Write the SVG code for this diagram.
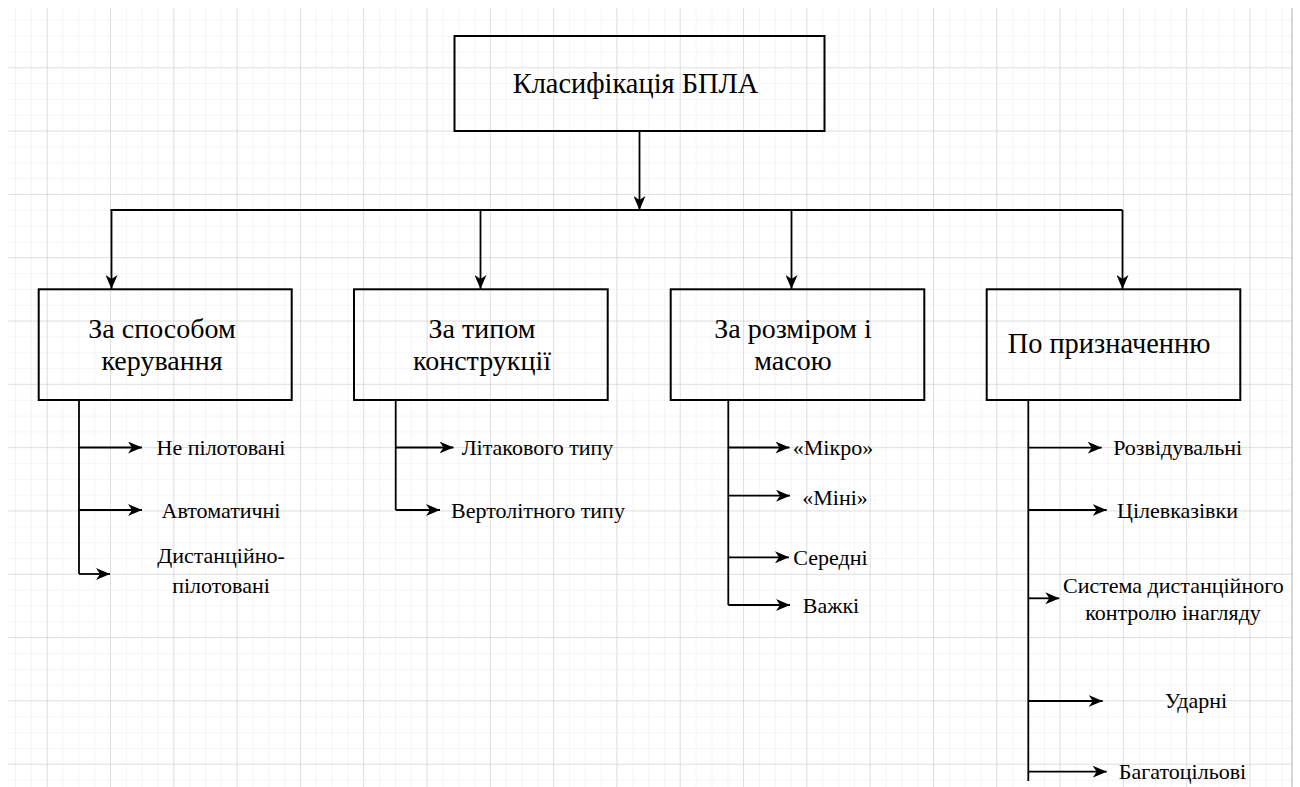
<svg xmlns="http://www.w3.org/2000/svg" width="1300" height="787" viewBox="0 0 1300 787">
<defs>
<pattern id="minor" patternUnits="userSpaceOnUse" x="46.7" y="4" width="15.83" height="15.83">
<path d="M0,0 V15.83 M0,0 H15.83" stroke="#ebebeb" stroke-width="1" fill="none"/>
</pattern>
<pattern id="major" patternUnits="userSpaceOnUse" x="46.7" y="4" width="63.3" height="63.3">
<path d="M0,0 V63.3 M0,0 H63.3" stroke="#c9c9c9" stroke-width="1" fill="none"/>
</pattern>
<marker id="ah" markerUnits="userSpaceOnUse" viewBox="0 0 14 12" refX="14" refY="6" markerWidth="14" markerHeight="12" orient="auto">
<path d="M0,0 L14,6 L0,12 L4,6 Z" fill="#000"/>
</marker>
</defs>
<rect x="0" y="0" width="1300" height="787" fill="#fff"/>
<rect x="8" y="8" width="1284" height="779" fill="url(#minor)"/>
<rect x="8" y="8" width="1284" height="779" fill="url(#major)"/>
<line x1="1292" y1="8" x2="1292" y2="787" stroke="#c9c9c9" stroke-width="1.5"/>

<g id="connectors" fill="none" stroke="#000" stroke-width="1.8">
<path d="M639.5,131 V210" marker-end="url(#ah)"/>
<path d="M110.5,210 H1122.5"/>
<path d="M111.5,210 V289" marker-end="url(#ah)"/>
<path d="M480.5,210 V289" marker-end="url(#ah)"/>
<path d="M791.5,210 V289" marker-end="url(#ah)"/>
<path d="M1122.5,210 V289" marker-end="url(#ah)"/>
<path d="M79,400 V574"/>
<path d="M79,447.5 H142" marker-end="url(#ah)"/>
<path d="M79,510 H142" marker-end="url(#ah)"/>
<path d="M79,574 H110" marker-end="url(#ah)"/>
<path d="M395.7,400 V510"/>
<path d="M395.7,447.5 H453.5" marker-end="url(#ah)"/>
<path d="M395.7,510 H440" marker-end="url(#ah)"/>
<path d="M728.3,400 V605"/>
<path d="M728.3,447.5 H789.5" marker-end="url(#ah)"/>
<path d="M728.3,495.7 H790" marker-end="url(#ah)"/>
<path d="M728.3,557.3 H789" marker-end="url(#ah)"/>
<path d="M728.3,605 H790" marker-end="url(#ah)"/>
<path d="M1028.3,400 V781"/>
<path d="M1028.3,447.7 H1101.7" marker-end="url(#ah)"/>
<path d="M1028.3,510 H1106.7" marker-end="url(#ah)"/>
<path d="M1028.3,598.3 H1059.3" marker-end="url(#ah)"/>
<path d="M1028.3,701 H1102.7" marker-end="url(#ah)"/>
<path d="M1028.3,771.7 H1106.7" marker-end="url(#ah)"/>
</g>

<g id="boxes" fill="none" stroke="#000" stroke-width="2">
<rect id="root-box" x="454.5" y="36" width="370" height="95"/>
<rect id="control-box" x="38.7" y="289.3" width="253" height="110.7"/>
<rect id="construction-box" x="354" y="289.3" width="253.7" height="110.7"/>
<rect id="size-box" x="670.7" y="289.3" width="253.6" height="110.7"/>
<rect id="purpose-box" x="986.7" y="289.3" width="253.6" height="110.7"/>
</g>

<g id="labels" font-family="Liberation Serif, serif" fill="#000" text-anchor="middle">
<g id="root" font-size="28.4">
<text x="635.5" y="93">Класифікація БПЛА</text>
</g>
<g id="control" font-size="28">
<text x="162" y="338.3">За способом</text>
<text x="162" y="370">керування</text>
</g>
<g id="construction" font-size="28">
<text x="482" y="338.3">За типом</text>
<text x="482" y="370">конструкції</text>
</g>
<g id="size" font-size="28">
<text x="793" y="338.3">За розміром і</text>
<text x="793" y="370">масою</text>
</g>
<g id="purpose" font-size="28.4">
<text x="1109" y="353.3">По призначенню</text>
</g>

<g font-size="22">
<g id="leaf-c1"><text x="221" y="455">Не пілотовані</text></g>
<g id="leaf-c2"><text x="221" y="518">Автоматичні</text></g>
<g id="leaf-c3"><text x="221" y="563">Дистанційно-</text><text x="221" y="593">пілотовані</text></g>
<g id="leaf-k1"><text x="537.5" y="455">Літакового типу</text></g>
<g id="leaf-k2"><text x="538" y="518">Вертолітного типу</text></g>
<g id="leaf-s1"><text x="833" y="455">«Мікро»</text></g>
<g id="leaf-s2"><text x="835" y="505">«Міні»</text></g>
<g id="leaf-s3"><text x="830.5" y="565">Середні</text></g>
<g id="leaf-s4"><text x="831" y="613">Важкі</text></g>
<g id="leaf-p1"><text x="1177.7" y="455">Розвідувальні</text></g>
<g id="leaf-p2"><text x="1177.5" y="518">Цілевказівки</text></g>
<g id="leaf-p3"><text x="1173.3" y="593.3">Система дистанційного</text><text x="1173" y="620">контролю інагляду</text></g>
<g id="leaf-p4"><text x="1196" y="708.3">Ударні</text></g>
<g id="leaf-p5"><text x="1182.5" y="779">Багатоцільові</text></g>
</g>
</g>
</svg>
